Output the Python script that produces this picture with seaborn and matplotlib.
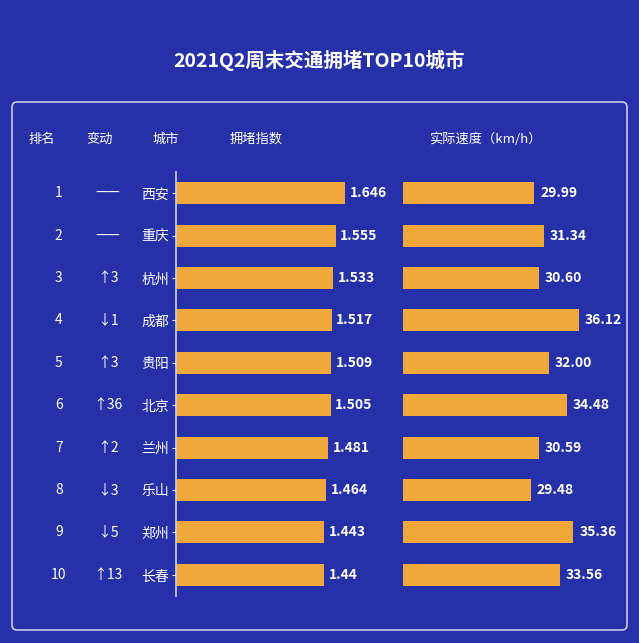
import pandas as pd
import seaborn as sns
import matplotlib.pyplot as plt
from matplotlib.patches import FancyBboxPatch

ranks = ['1', '2', '3', '4', '5', '6', '7', '8', '9', '10']
changes = ['——', '——', '↑3', '↓1', '↑3', '↑36', '↑2', '↓3', '↓5', '↑13']
cities = ['西安', '重庆', '杭州', '成都', '贵阳', '北京', '兰州', '乐山', '郑州', '长春']
congestion = [1.646, 1.555, 1.533, 1.517, 1.509, 1.505, 1.481, 1.464, 1.443, 1.44]
congestion_labels = ['1.646', '1.555', '1.533', '1.517', '1.509', '1.505', '1.481', '1.464', '1.443', '1.44']
speed = [29.99, 31.34, 30.60, 36.12, 32.00, 34.48, 30.59, 29.48, 35.36, 33.56]

df = pd.DataFrame({'city': cities, 'congestion': congestion, 'speed': speed})

sns.set_theme(style='white')
plt.rcParams['font.family'] = ['Noto Sans CJK SC', 'DejaVu Sans']

bg = '#2630a8'
bar = '#f0a83a'
W, H = 639, 643
fig = plt.figure(figsize=(6.39, 6.43), dpi=100)
fig.patch.set_facecolor(bg)

# panel border
fig.patches.append(FancyBboxPatch((12 / W, 13 / H), 615 / W, 528 / H,
                                  boxstyle='round,pad=0,rounding_size=0.008',
                                  transform=fig.transFigure, fill=False,
                                  edgecolor='#c8ccf0', linewidth=1.2))

fig.text(0.5, 1 - 60 / H, '2021Q2周末交通拥堵TOP10城市', color='white',
         fontsize=14, fontweight='bold', ha='center', va='center')

hy = 1 - 139 / H
for x, t in [(42, '排名'), (100, '变动'), (166, '城市'), (256, '拥堵指数'), (485, '实际速度（km/h）')]:
    fig.text(x / W, hy, t, color='white', fontsize=9.5, ha='center', va='center')

bottom = 1 - 596 / H
height = 424 / H

ax1 = fig.add_axes([176 / W, bottom, 200 / W, height])
sns.barplot(data=df, y='city', x='congestion', orient='h', color=bar,
            width=0.52, saturation=1, linewidth=0, ax=ax1)
ax1.set_xlim(0, 1.948)
ax1.set_facecolor('none')
ax1.set_xlabel('')
ax1.set_ylabel('')
ax1.set_xticks([])
for s in ['top', 'right', 'bottom']:
    ax1.spines[s].set_visible(False)
ax1.spines['left'].set_color('#c8ccf0')
ax1.tick_params(axis='y', colors='white', labelsize=10, length=3, left=True,
                width=0.8, pad=2)
for lbl in ax1.get_yticklabels():
    lbl.set_color('white')
for i, v in enumerate(congestion):
    ax1.text(v + 0.045, i, congestion_labels[i], color='white', fontsize=10,
             fontweight='bold', va='center')
    ax1.text(-1.44 * (176 - 42) / 169, i, ranks[i], color='white',
             fontsize=10, va='center', ha='center', clip_on=False)
    ax1.text(-1.44 * (176 - 98) / 169, i, changes[i], color='white',
             fontsize=10, va='center', ha='center', clip_on=False)

ax2 = fig.add_axes([403 / W, bottom, 224 / W, height])
sns.barplot(data=df, y='city', x='speed', orient='h', color=bar,
            width=0.52, saturation=1, linewidth=0, ax=ax2)
ax2.set_xlim(12, 42.7)
ax2.set_facecolor('none')
ax2.set_xlabel('')
ax2.set_ylabel('')
ax2.set_xticks([])
ax2.set_yticks([])
sns.despine(ax=ax2, left=True, bottom=True)
for i, v in enumerate(speed):
    ax2.text(v + 0.8, i, f'{v:.2f}', color='white', fontsize=10,
             fontweight='bold', va='center', clip_on=False)

fig.savefig('out.png', dpi=100, facecolor=bg)
